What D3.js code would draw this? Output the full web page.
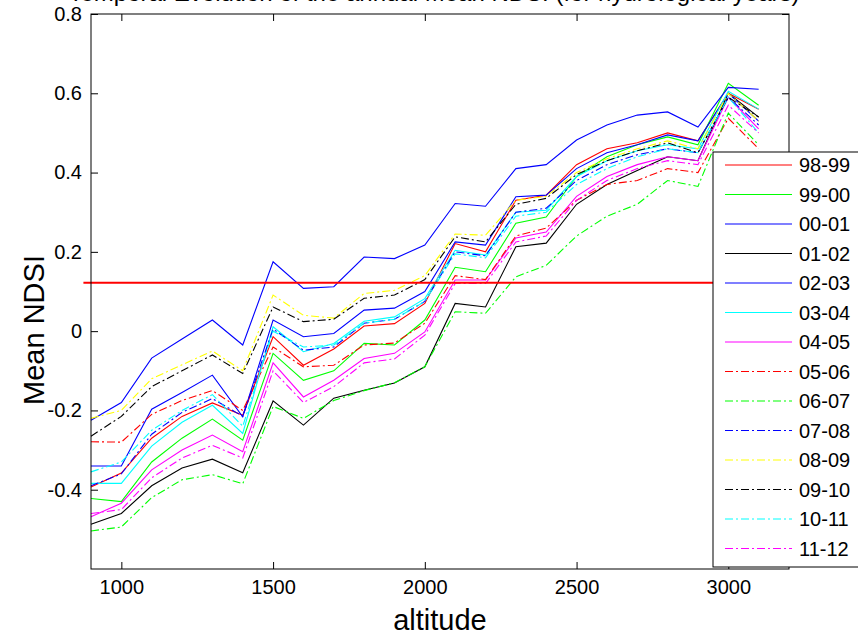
<!DOCTYPE html>
<html>
<head>
<meta charset="utf-8">
<script src="https://cdn.jsdelivr.net/npm/d3@7"></script>
<style>
  body { margin: 0; background: #fff; }
  svg { display: block; }
  text { font-family: Arial, "Liberation Sans", Helvetica, sans-serif; fill: #000; }
</style>
</head>
<body>
<svg id="chart" width="858" height="636"></svg>
<script>
// altitudes (x) shared by every season
var altitudes = [900, 1000, 1100, 1200, 1300, 1400, 1500, 1600, 1700, 1800, 1900, 2000,
                 2100, 2200, 2300, 2400, 2500, 2600, 2700, 2800, 2900, 3000, 3100];

var seasons = ['98-99', '99-00', '00-01', '01-02', '02-03', '03-04', '04-05',
               '05-06', '06-07', '07-08', '08-09', '09-10', '10-11', '11-12'];

// mean NDSI per season
var ndsi9899 = [-0.393, -0.358, -0.27, -0.215, -0.181, -0.212, -0.014, -0.086, -0.045, 0.013, 0.019, 0.07, 0.221, 0.2, 0.33, 0.343, 0.42, 0.46, 0.475, 0.5, 0.48, 0.6, 0.56];
var ndsi9900 = [-0.422, -0.43, -0.33, -0.27, -0.222, -0.275, -0.056, -0.124, -0.1, -0.031, -0.035, 0.028, 0.161, 0.15, 0.272, 0.288, 0.39, 0.44, 0.47, 0.49, 0.47, 0.625, 0.57];
var ndsi0001 = [-0.225, -0.18, -0.068, -0.02, 0.028, -0.035, 0.175, 0.108, 0.112, 0.187, 0.183, 0.217, 0.322, 0.315, 0.41, 0.42, 0.482, 0.52, 0.545, 0.553, 0.515, 0.615, 0.61];
var ndsi0102 = [-0.487, -0.46, -0.39, -0.345, -0.323, -0.357, -0.176, -0.237, -0.169, -0.149, -0.131, -0.09, 0.07, 0.061, 0.213, 0.222, 0.32, 0.37, 0.405, 0.44, 0.43, 0.6, 0.54];
var ndsi0203 = [-0.34, -0.34, -0.197, -0.155, -0.111, -0.216, 0.028, -0.014, -0.006, 0.053, 0.058, 0.1, 0.225, 0.217, 0.339, 0.343, 0.41, 0.45, 0.47, 0.495, 0.48, 0.6, 0.53];
var ndsi0304 = [-0.384, -0.384, -0.29, -0.23, -0.187, -0.258, 0.011, -0.052, -0.031, 0.025, 0.036, 0.082, 0.204, 0.192, 0.3, 0.305, 0.39, 0.43, 0.455, 0.47, 0.46, 0.605, 0.56];
var ndsi0405 = [-0.468, -0.434, -0.35, -0.3, -0.262, -0.304, -0.08, -0.166, -0.124, -0.069, -0.056, -0.002, 0.129, 0.129, 0.235, 0.25, 0.34, 0.39, 0.42, 0.44, 0.43, 0.59, 0.51];
var ndsi0506 = [-0.279, -0.28, -0.21, -0.175, -0.15, -0.2, -0.04, -0.09, -0.086, -0.035, -0.03, 0.02, 0.14, 0.13, 0.24, 0.26, 0.33, 0.37, 0.38, 0.41, 0.4, 0.537, 0.46];
var ndsi0607 = [-0.504, -0.494, -0.42, -0.375, -0.362, -0.385, -0.19, -0.22, -0.175, -0.15, -0.13, -0.09, 0.049, 0.045, 0.137, 0.166, 0.24, 0.29, 0.32, 0.38, 0.365, 0.55, 0.47];
var ndsi0708 = [-0.39, -0.36, -0.26, -0.205, -0.17, -0.215, 0.005, -0.048, -0.04, 0.02, 0.03, 0.075, 0.2, 0.19, 0.3, 0.31, 0.38, 0.42, 0.445, 0.46, 0.45, 0.59, 0.52];
var ndsi0809 = [-0.22, -0.2, -0.12, -0.085, -0.05, -0.1, 0.091, 0.04, 0.033, 0.095, 0.103, 0.14, 0.245, 0.242, 0.33, 0.34, 0.4, 0.435, 0.46, 0.48, 0.46, 0.6, 0.53];
var ndsi0910 = [-0.265, -0.215, -0.14, -0.1, -0.06, -0.107, 0.061, 0.024, 0.03, 0.083, 0.091, 0.13, 0.238, 0.225, 0.32, 0.335, 0.395, 0.43, 0.455, 0.475, 0.45, 0.59, 0.54];
var ndsi1011 = [-0.355, -0.33, -0.25, -0.2, -0.16, -0.24, 0.0, -0.04, -0.035, 0.02, 0.03, 0.075, 0.195, 0.185, 0.29, 0.3, 0.37, 0.41, 0.44, 0.46, 0.45, 0.59, 0.5];
var ndsi1112 = [-0.46, -0.45, -0.37, -0.32, -0.288, -0.32, -0.1, -0.18, -0.14, -0.08, -0.07, -0.01, 0.12, 0.12, 0.225, 0.24, 0.33, 0.38, 0.41, 0.43, 0.42, 0.57, 0.5];

var threshold = 0.122;

var xTicks = [1000, 1500, 2000, 2500, 3000];
var yTicks = [-0.4, -0.2, 0, 0.2, 0.4, 0.6, 0.8];

var seriesValues = [ndsi9899, ndsi9900, ndsi0001, ndsi0102, ndsi0203, ndsi0304, ndsi0405,
                    ndsi0506, ndsi0607, ndsi0708, ndsi0809, ndsi0910, ndsi1011, ndsi1112];
var colors = ['#ff0000', '#00ff00', '#0000ff', '#000000', '#0000ff', '#00ffff', '#ff00ff',
              '#ff0000', '#00ff00', '#0000ff', '#ffff00', '#000000', '#00ffff', '#ff00ff'];
var dashed = [false, false, false, false, false, false, false,
              true, true, true, true, true, true, true];

var svg = d3.select('#chart');
var plotLeft = 91, plotRight = 789, plotTop = 14, plotBottom = 569;

var x = d3.scaleLinear().domain([900, 3200]).range([plotLeft, plotRight]);
var y = d3.scaleLinear().domain([-0.6, 0.8]).range([plotBottom, plotTop]);

// matlab style labels: plain hyphen for negatives, bare 0
var fmtY = function(d) { return d === 0 ? '0' : d3.format('.1f')(d).replace('\u2212', '-'); };

// title (mostly cut off at the top edge)
svg.append('text')
    .attr('x', (plotLeft + plotRight) / 2 - 6)
    .attr('y', 1)
    .attr('text-anchor', 'middle')
    .style('font-size', '24px')
    .text('Temporal Evolution of the annual Mean NDSI (for hydrological years)');

var plot = svg.append('g');

var line = d3.line()
    .x(function(d) { return x(d[0]); })
    .y(function(d) { return y(d[1]); });

seriesValues.forEach(function(vals, i) {
    plot.append('path')
        .datum(altitudes.map(function(a, j) { return [a, vals[j]]; }))
        .attr('d', line)
        .attr('fill', 'none')
        .attr('stroke', colors[i])
        .attr('stroke-width', 1.1)
        .attr('stroke-dasharray', dashed[i] ? '8,3,2,3' : null);
});

// threshold line
svg.append('line')
    .attr('x1', x(875)).attr('x2', 858)
    .attr('y1', y(threshold)).attr('y2', y(threshold))
    .attr('stroke', '#ff0000')
    .attr('stroke-width', 2);

// axes with inward ticks, box on all sides
var tickLen = 7;
svg.append('g')
    .attr('transform', 'translate(0,' + plotBottom + ')')
    .call(d3.axisBottom(x).tickValues(xTicks).tickSize(-tickLen).tickPadding(tickLen + 4).tickFormat(d3.format('d')))
    .call(function(g) { g.select('.domain').remove(); })
    .selectAll('text').style('font-size', '20px').attr('fill', '#000');
svg.append('g')
    .attr('transform', 'translate(0,' + plotTop + ')')
    .call(d3.axisTop(x).tickValues(xTicks).tickSize(-tickLen).tickFormat(''))
    .call(function(g) { g.select('.domain').remove(); });
svg.append('g')
    .attr('transform', 'translate(' + plotLeft + ',0)')
    .call(d3.axisLeft(y).tickValues(yTicks).tickSize(-tickLen).tickPadding(tickLen + 2).tickFormat(fmtY))
    .call(function(g) { g.select('.domain').remove(); })
    .selectAll('text').style('font-size', '20px').attr('fill', '#000');
svg.append('g')
    .attr('transform', 'translate(' + plotRight + ',0)')
    .call(d3.axisRight(y).tickValues(yTicks).tickSize(-tickLen).tickFormat(''))
    .call(function(g) { g.select('.domain').remove(); });
svg.selectAll('.tick line').attr('stroke', '#000');

svg.append('rect')
    .attr('x', plotLeft).attr('y', plotTop)
    .attr('width', plotRight - plotLeft).attr('height', plotBottom - plotTop)
    .attr('fill', 'none').attr('stroke', '#000').attr('stroke-width', 1);

// axis labels
svg.append('text')
    .attr('x', (plotLeft + plotRight) / 2)
    .attr('y', 630)
    .attr('text-anchor', 'middle')
    .style('font-size', '29px')
    .text('altitude');
svg.append('text')
    .attr('transform', 'translate(44,330) rotate(-90)')
    .attr('text-anchor', 'middle')
    .style('font-size', '29px')
    .text('Mean NDSI');

// legend
var lg = svg.append('g').attr('transform', 'translate(713,152)');
lg.append('rect')
    .attr('width', 150).attr('height', 415)
    .attr('fill', '#fff').attr('stroke', '#000');
var rows = lg.selectAll('g.row').data(seasons).enter().append('g')
    .attr('transform', function(d, i) { return 'translate(0,' + (13 + i * 29.5) + ')'; });
rows.append('line')
    .attr('x1', 12).attr('x2', 79)
    .attr('stroke', function(d, i) { return colors[i]; })
    .attr('stroke-width', 1.1)
    .attr('stroke-dasharray', function(d, i) { return dashed[i] ? '8,3,2,3' : null; });
rows.append('text')
    .attr('x', 86).attr('y', 7)
    .style('font-size', '20px')
    .text(function(d) { return d; });
</script>
</body>
</html>
